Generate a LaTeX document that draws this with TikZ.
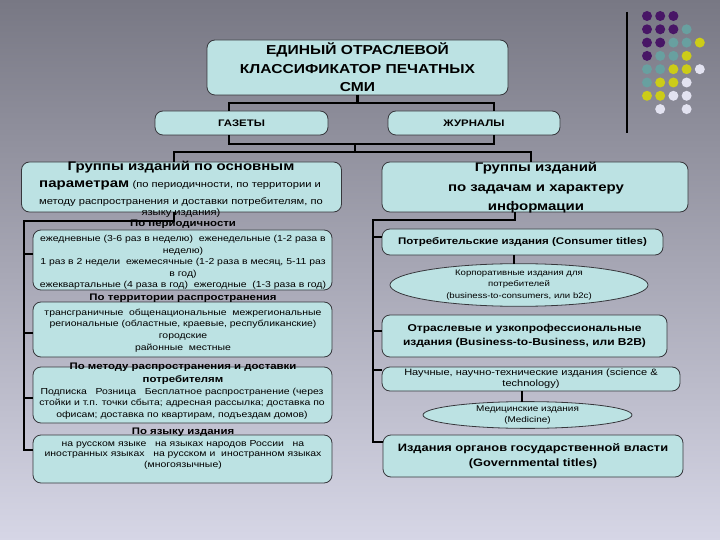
\documentclass[tikz,border=0pt]{standalone}
\usepackage{fontspec}
\setmainfont{Liberation Sans}[FakeStretch=1.2]
\usetikzlibrary{shapes.geometric}
\definecolor{bgtop}{RGB}{120,120,132}
\definecolor{bgmid}{RGB}{168,168,184}
\definecolor{bgbot}{RGB}{214,214,230}
\definecolor{boxc}{RGB}{188,226,227}
\definecolor{edge}{RGB}{55,55,60}
\definecolor{dpur}{RGB}{72,22,102}
\definecolor{dteal}{RGB}{104,160,160}
\definecolor{dyel}{RGB}{204,204,24}
\definecolor{dwht}{RGB}{226,226,240}
\tikzset{
  boxn/.style={draw=edge, fill=boxc, rounded corners=8pt, line width=0.8pt, inner sep=0pt, outer sep=0pt, align=center},
  elln/.style={ellipse, draw=edge, fill=boxc, line width=0.8pt, inner sep=0pt, outer sep=0pt, align=center},
  txt/.style={inner sep=0pt, align=center},
  conn/.style={line width=2.4pt, draw=black},
  small/.style={font=\fontsize{8.7}{11.6}\selectfont},
  subt/.style={font=\fontsize{9.5}{13}\selectfont\bfseries},
  big/.style={font=\fontsize{12.5}{19.5}\selectfont\bfseries}
}
\begin{document}
\begin{tikzpicture}[x=1pt,y=-1pt]
\useasboundingbox (0,0) rectangle (720,540);
\shade[top color=bgtop, middle color=bgmid, bottom color=bgbot] (0,0) rectangle (720,540);

% decoration
\draw[line width=1.2pt] (627,12) -- (627,133);
\foreach \c/\r/\col in {0/0/dpur,1/0/dpur,2/0/dpur,
  0/1/dpur,1/1/dpur,2/1/dpur,3/1/dteal,
  0/2/dpur,1/2/dpur,2/2/dteal,3/2/dteal,4/2/dyel,
  0/3/dpur,1/3/dteal,2/3/dteal,3/3/dyel,
  0/4/dteal,1/4/dteal,2/4/dyel,3/4/dyel,4/4/dwht,
  0/5/dteal,1/5/dyel,2/5/dyel,3/5/dwht,
  0/6/dyel,1/6/dyel,2/6/dwht,3/6/dwht,
  1/7/dwht,3/7/dwht}
  \fill[\col] ({647+13.2*\c},{16+13.3*\r}) circle (5pt);

% top level
\node[boxn, minimum width=301pt, minimum height=55pt, font=\fontsize{13}{18.5}\selectfont\bfseries] (top) at (357.5,67.5) {ЕДИНЫЙ ОТРАСЛЕВОЙ\\КЛАССИФИКАТОР ПЕЧАТНЫХ\\СМИ};
\node[boxn, minimum width=173pt, minimum height=24pt, font=\fontsize{9.5}{11}\selectfont\bfseries] (gaz) at (241.5,123) {ГАЗЕТЫ};
\node[boxn, minimum width=172pt, minimum height=24pt, font=\fontsize{9.5}{11}\selectfont\bfseries] (jur) at (474,123) {ЖУРНАЛЫ};

% group boxes
\node[boxn, minimum width=320pt, minimum height=50pt] (L1) at (181.5,187) {};
\node[boxn, minimum width=306pt, minimum height=50pt] (R1) at (535,187) {};
\node[txt, big] (L1a) at (181,167) {Группы изданий по основным};
\node[txt] (L1b) at (180,185.5) {{\fontsize{12.5}{15}\selectfont\bfseries параметрам} {\fontsize{9.3}{11}\selectfont (по периодичности, по территории и}};
\node[txt, font=\fontsize{9.3}{11}\selectfont] (L1c) at (181,208) {методу распространения и доставки потребителям, по\\языку издания)};
\node[txt, big] (R1t) at (536,188) {Группы изданий\\по задачам и характеру\\информации};

% left sub boxes
\node[boxn, minimum width=299pt, minimum height=60pt] (P1) at (182.5,260) {};
\node[boxn, minimum width=299pt, minimum height=55pt] (P2) at (182.5,329.5) {};
\node[boxn, minimum width=299pt, minimum height=56pt] (P3) at (182.5,395) {};
\node[boxn, minimum width=299pt, minimum height=48pt] (P4) at (182.5,459) {};

\node[txt, subt] (P1t) at (183,224) {По периодичности};
\node[txt, small] (P1x) at (183,262.5) {ежедневные (3-6 раз в неделю)\ \ еженедельные (1-2 раза в\\неделю)\\1 раз в 2 недели\ \ ежемесячные (1-2 раза в месяц, 5-11 раз\\в год)\\ежеквартальные (4 раза в год)\ \ ежегодные\ \ (1-3 раза в год)};
\node[txt, subt] (P2t) at (183,298) {По территории распространения};
\node[txt, small] (P2x) at (183,330.5) {трансграничные\ \ общенациональные\ \ межрегиональные\\региональные (областные, краевые, республиканские)\\городские\\районные\ \ местные};
\node[txt, subt] (P3t) at (183,373.5) {По методу распространения и доставки\\потребителям};
\node[txt, small] (P3x) at (182,403.5) {Подписка\ \ \ Розница\ \ \ Бесплатное распространение (через\\стойки и т.п. точки сбыта; адресная рассылка; доставка по\\офисам; доставка по квартирам, подъездам домов)};
\node[txt, subt] (P4t) at (183,432) {По языку издания};
\node[txt, font=\fontsize{8.7}{10.5}\selectfont] (P4x) at (183,454.5) {на русском языке\ \ \ на языках народов России\ \ \ на\\иностранных языках\ \ \ на русском и\ \ иностранном языках\\(многоязычные)};

% right sub boxes
\node[boxn, minimum width=281pt, minimum height=26pt, font=\fontsize{9.6}{11}\selectfont\bfseries] (C1) at (522.5,242) {Потребительские издания (Consumer titles)};
\node[elln, minimum width=258pt, minimum height=34pt, font=\fontsize{8}{11.5}\selectfont] (E1) at (519,285) {Корпоративные издания для\\потребителей\\(business-to-consumers, или b2c)};
\node[boxn, minimum width=285pt, minimum height=42pt, font=\fontsize{10}{14}\selectfont\bfseries] (C2) at (524.5,336) {Отраслевые и узкопрофессиональные\\издания (Business-to-Business, или B2B)};
\node[boxn, minimum width=298pt, minimum height=24pt, font=\fontsize{9.2}{11}\selectfont] (C3) at (531,379) {Научные, научно-технические издания (science \&\\technology)};
\node[elln, minimum width=209pt, minimum height=24pt, font=\fontsize{8.3}{11.5}\selectfont] (E2) at (527.5,415) {Медицинские издания\\(Medicine)};
\node[boxn, minimum width=300pt, minimum height=42pt, font=\fontsize{10.7}{14.5}\selectfont\bfseries] (C4) at (533,456) {Издания органов государственной власти\\(Governmental titles)};

% tick anchor points
\coordinate (tp1) at ([yshift=6pt]P1.west);
\coordinate (tp2) at ([yshift=-3.5pt]P2.west);
\coordinate (tp3) at ([yshift=-3pt]P3.west);
\coordinate (tp4) at ([yshift=9pt]P4.west);
\coordinate (tc1) at ([yshift=5pt]C1.west);
\coordinate (tc2) at ([yshift=5pt]C2.west);
\coordinate (tc3) at ([yshift=9pt]C3.west);
\coordinate (tc4) at ([yshift=14pt]C4.west);

% connectors top
\coordinate (gx) at (229,103);
\coordinate (jx) at (494,103);
\draw[conn] (top.south) |- (gx) -- (gx|-gaz.north);
\draw[conn] (top.south) |- (jx) -- (jx|-jur.north);
\coordinate (ga) at (229,144);
\coordinate (ja) at (494,144);
\coordinate (mid) at (355,144);
\draw[conn] (ga|-gaz.south) -- (ga) -- (ja) -- (ja|-jur.south);
\coordinate (lx) at (174,152);
\coordinate (rx) at (531,152);
\draw[conn] (mid) |- (lx) -- (lx|-L1.north);
\draw[conn] (mid) |- (rx) -- (rx|-R1.north);

% left spine
\coordinate (lb) at (174,221);
\coordinate (ls) at (24,221);
\draw[conn] (lb|-L1.south) -- (lb) -- (ls) -- (ls|-tp4) -- (tp4);
\draw[conn] (ls|-tp1) -- (tp1);
\draw[conn] (ls|-tp2) -- (tp2);
\draw[conn] (ls|-tp3) -- (tp3);

% right spine
\coordinate (rb) at (515,220);
\coordinate (rs) at (373,220);
\draw[conn] (rb|-R1.south) -- (rb) -- (rs) -- (rs|-tc4) -- (tc4);
\draw[conn] (rs|-tc1) -- (tc1);
\draw[conn] (rs|-tc2) -- (tc2);
\draw[conn] (rs|-tc3) -- (tc3);
\coordinate (e1x) at (514,0);
\coordinate (e2x) at (522,0);
\draw[conn] (e1x|-C1.south) -- (e1x|-E1.north);
\draw[conn] (e2x|-C3.south) -- (e2x|-E2.north);
\end{tikzpicture}
\end{document}
